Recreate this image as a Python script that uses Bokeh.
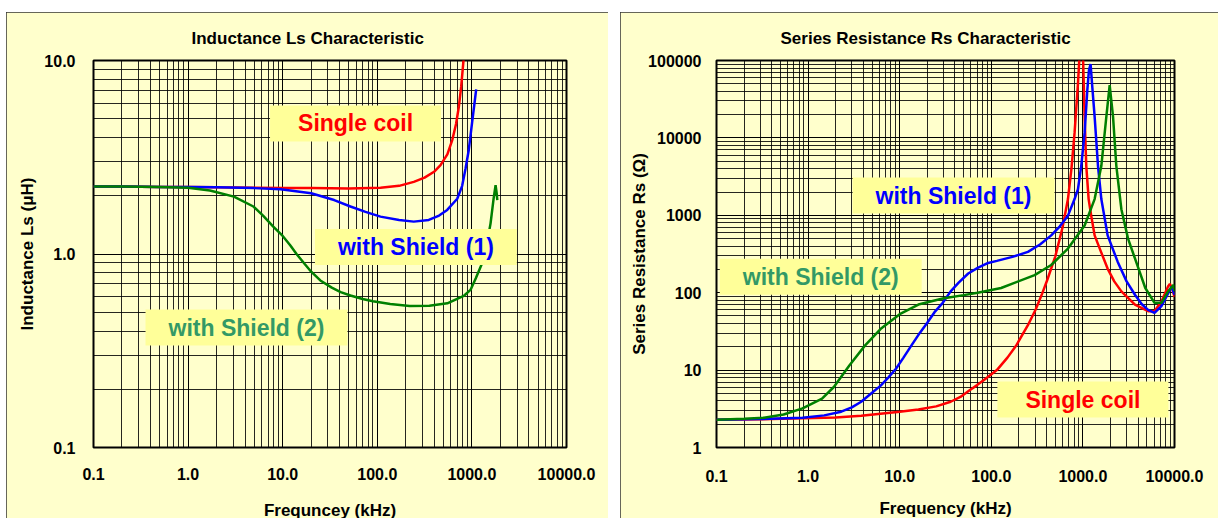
import math
from bokeh.plotting import figure
from bokeh.models import Range1d, FixedTicker, Label, GlobalInlineStyleSheet
from bokeh.layouts import row
from bokeh.embed import file_html
from bokeh.resources import INLINE

FONT = "Liberation Sans"
PANEL_BG = "#FFFFCC"
BOX_BG = "#FFFF99"

# ---------------- Left chart: Inductance Ls ----------------
ls_x_ticks = [0.1, 1, 10, 100, 1000, 10000]
ls_x_labels = ["0.1", "1.0", "10.0", "100.0", "1000.0", "10000.0"]
ls_y_ticks = [0.1, 1, 10]
ls_y_labels = ["0.1", "1.0", "10.0"]

ls_single_f = [0.1, 0.2, 0.5, 1, 2, 5, 10, 20, 50, 108, 170, 243, 316, 398, 466, 550, 620, 680, 728, 770, 809, 830]
ls_single_v = [2.23, 2.23, 2.22, 2.22, 2.21, 2.2, 2.19, 2.19, 2.18, 2.2, 2.25, 2.36, 2.48, 2.66, 2.88, 3.27, 3.88, 4.7, 5.77, 7.3, 9.6, 11.0]

ls_sh1_f = [0.1, 0.2, 0.5, 1, 2, 5, 9.5, 20, 35, 52, 75, 108, 170, 243, 350, 450, 548, 700, 789, 855, 927, 1006, 1060, 1110]
ls_sh1_v = [2.23, 2.23, 2.22, 2.22, 2.21, 2.19, 2.16, 2.06, 1.9, 1.76, 1.65, 1.56, 1.5, 1.47, 1.5, 1.58, 1.69, 1.93, 2.25, 2.75, 3.45, 4.8, 5.9, 7.1]

ls_sh2_f = [0.1, 0.2, 0.5, 1, 1.7, 3.05, 4.9, 6.2, 7.9, 10, 12, 14, 17, 20, 25, 33, 41, 52, 70, 90, 137, 220, 355, 550, 830, 966, 1100, 1282, 1450, 1575, 1700, 1780, 1830, 1855]
ls_sh2_v = [2.23, 2.23, 2.22, 2.2, 2.13, 1.98, 1.76, 1.58, 1.39, 1.24, 1.11, 1.0, 0.89, 0.81, 0.73, 0.67, 0.635, 0.61, 0.585, 0.57, 0.551, 0.538, 0.54, 0.556, 0.61, 0.652, 0.75, 0.895, 1.15, 1.44, 1.95, 2.27, 2.05, 1.9]

# ---------------- Right chart: Series resistance Rs ----------------
rs_x_ticks = [0.1, 1, 10, 100, 1000, 10000]
rs_x_labels = ["0.1", "1.0", "10.0", "100.0", "1000.0", "10000.0"]
rs_y_ticks = [1, 10, 100, 1000, 10000, 100000]
rs_y_labels = ["1", "10", "100", "1000", "10000", "100000"]

rs_single_f = [0.1, 0.3, 0.87, 2, 3.8, 10, 16, 25, 36, 46, 58, 70, 86, 115, 150, 188, 251, 306, 360, 410, 500, 600, 687, 750, 811, 883, 930, 975, 1002, 1044, 1089, 1155, 1230, 1343, 1550, 1860, 2200, 2630, 3700, 5150, 6050, 7200, 8500, 8900, 9400, 10000]
rs_single_v = [2.29, 2.32, 2.38, 2.45, 2.57, 2.9, 3.1, 3.4, 3.9, 4.5, 5.5, 6.4, 7.7, 10, 14.5, 21, 38, 61, 98, 148, 295, 700, 1620, 4000, 11600, 50000, 150000, 200000, 120000, 18800, 4320, 1620, 1000, 550, 355, 205, 140, 104, 70, 57.6, 57.6, 77, 120, 130, 115, 88]

rs_sh1_f = [0.1, 0.3, 0.87, 1.5, 2.3, 3.0, 3.8, 4.8, 6.2, 7.5, 9.1, 11, 13.5, 16.5, 20, 24, 29.5, 36, 44, 56, 71, 90, 115, 170, 251, 340, 451, 560, 687, 811, 883, 959, 1044, 1117, 1165, 1213, 1270, 1343, 1462, 1589, 1862, 2400, 3000, 3700, 4400, 5150, 6050, 7200, 9300, 10000]
rs_sh1_v = [2.29, 2.33, 2.43, 2.6, 2.9, 3.3, 3.9, 4.9, 6.3, 8.0, 10.4, 14.5, 21, 30, 41, 56, 74, 104, 135, 177, 209, 240, 258, 290, 337, 420, 550, 720, 990, 1620, 2170, 4320, 11600, 41300, 75000, 90000, 43600, 18800, 4320, 1620, 550, 250, 140, 94, 71, 60, 55, 67, 120, 94]

rs_sh2_f = [0.1, 0.2, 0.33, 0.54, 0.87, 1.42, 1.91, 2.82, 4.17, 6.17, 10, 16.4, 29.5, 50, 71, 128, 297, 451, 687, 1044, 1343, 1589, 1803, 1960, 2133, 2318, 2630, 3110, 3700, 4800, 6050, 7200, 8500, 9800, 10000]
rs_sh2_v = [2.29, 2.35, 2.43, 2.67, 3.2, 4.29, 6.05, 11.5, 20.7, 33.9, 52.7, 71, 84, 93, 100, 115, 169, 228, 372, 738, 1620, 4320, 18800, 48000, 18800, 4320, 1200, 500, 277, 115, 74, 74, 104, 126, 104]


def minor_ticks(lo_exp, hi_exp):
    return [m * 10.0 ** e for e in range(lo_exp, hi_exp) for m in range(2, 10)]


def make_fig(width, x_ticks, x_labels, y_ticks, y_labels, y_range, title, title_offset,
             xlabel, ylabel, mb_left, mb_right, mb_bottom,
             xl_standoff, xa_standoff, yl_standoff, ya_standoff, margin):
    p = figure(width=width, height=510, x_axis_type="log", y_axis_type="log",
               x_range=Range1d(x_ticks[0], x_ticks[-1]), y_range=Range1d(*y_range),
               output_backend="svg", toolbar_location=None,
               min_border_left=mb_left, min_border_right=mb_right,
               min_border_top=48, min_border_bottom=mb_bottom,
               background_fill_color=PANEL_BG, border_fill_color=PANEL_BG)
    p.margin = margin
    p.styles = {"outline": "2px solid #333333", "outline-offset": "-2px"}

    p.title.text = title
    p.title.align = "left"
    p.title.offset = title_offset
    p.title.standoff = 25
    p.title.text_font = FONT
    p.title.text_font_size = "17px"
    p.title.text_font_style = "bold"
    p.title.text_color = "black"

    xe = (round(math.log10(x_ticks[0])), round(math.log10(x_ticks[-1])))
    ye = (round(math.log10(y_ticks[0])), round(math.log10(y_ticks[-1])))
    p.xaxis.ticker = FixedTicker(ticks=x_ticks, minor_ticks=minor_ticks(*xe))
    p.yaxis.ticker = FixedTicker(ticks=y_ticks, minor_ticks=minor_ticks(*ye))
    p.xaxis.major_label_overrides = {t: s for t, s in zip(x_ticks, x_labels)}
    p.yaxis.major_label_overrides = {t: s for t, s in zip(y_ticks, y_labels)}

    p.xaxis.axis_label = xlabel
    p.yaxis.axis_label = ylabel
    for ax in (p.xaxis[0], p.yaxis[0]):
        ax.axis_line_color = None
        ax.major_tick_line_color = None
        ax.minor_tick_line_color = None
        ax.major_tick_out = 0
        ax.major_tick_in = 0
        ax.minor_tick_out = 0
        ax.minor_tick_in = 0
        ax.major_label_text_font = FONT
        ax.major_label_text_font_size = "16px"
        ax.major_label_text_font_style = "bold"
        ax.major_label_text_color = "black"
        ax.axis_label_text_font = FONT
        ax.axis_label_text_font_size = "17px"
        ax.axis_label_text_font_style = "bold"
        ax.axis_label_text_color = "black"
    p.xaxis.major_label_standoff = xl_standoff
    p.xaxis.axis_label_standoff = xa_standoff
    p.yaxis.major_label_standoff = yl_standoff
    p.yaxis.axis_label_standoff = ya_standoff

    p.grid.grid_line_color = "black"
    p.grid.grid_line_width = 1
    p.grid.minor_grid_line_color = "black"
    p.grid.minor_grid_line_width = 1
    p.grid.minor_grid_line_alpha = 0.85

    p.outline_line_color = "black"
    p.outline_line_width = 2
    return p


def box_label(p, x, y, text, color, hpad):
    p.add_layout(Label(x=x, y=y, text=text, text_align="center", text_baseline="middle",
                       text_font=FONT, text_font_size="23px", text_font_style="bold",
                       text_color=color, background_fill_color=BOX_BG,
                       padding=(hpad, 5)))


p1 = make_fig(602, ls_x_ticks, ls_x_labels, ls_y_ticks, ls_y_labels, (0.1, 10),
              "Inductance Ls Characteristic", 98,
              "Frequncey (kHz)", "Inductance Ls (\u03bcH)",
              87, 42, 75, 20, 18, 18, 4, (12, 0, 0, 6))
p1.stylesheets = [GlobalInlineStyleSheet(css="html, body { overflow: hidden; }")]

p1.line(ls_single_f, ls_single_v, line_color="#FF0000", line_width=2.5)
p1.line(ls_sh1_f, ls_sh1_v, line_color="#0000FF", line_width=2.5)
p1.line(ls_sh2_f, ls_sh2_v, line_color="#008000", line_width=2.5)
box_label(p1, 58.9, 4.73, "Single coil", "#FF0000", 28)
box_label(p1, 256, 1.087, "with Shield (1)", "#0000FF", 23)
box_label(p1, 4.14, 0.417, "with Shield (2)", "#339966", 23)

p2 = make_fig(598, rs_x_ticks, rs_x_labels, rs_y_ticks, rs_y_labels, (1, 100000),
              "Series Resistance Rs Characteristic", 64,
              "Frequency (kHz)", "Series Resistance Rs (\u03a9)",
              96, 44, 71, 22, 14, 15, -4, (12, 0, 0, 12))

p2.line(rs_single_f, rs_single_v, line_color="#FF0000", line_width=2.5)
p2.line(rs_sh1_f, rs_sh1_v, line_color="#0000FF", line_width=2.5)
p2.line(rs_sh2_f, rs_sh2_v, line_color="#008000", line_width=2.5)
box_label(p2, 38.7, 1796, "with Shield (1)", "#0000FF", 23)
box_label(p2, 1.374, 160.7, "with Shield (2)", "#339966", 23)
box_label(p2, 1000, 4.17, "Single coil", "#FF0000", 28)

layout = row(p1, p2)
open("out.html", "w").write(file_html(layout, INLINE))
